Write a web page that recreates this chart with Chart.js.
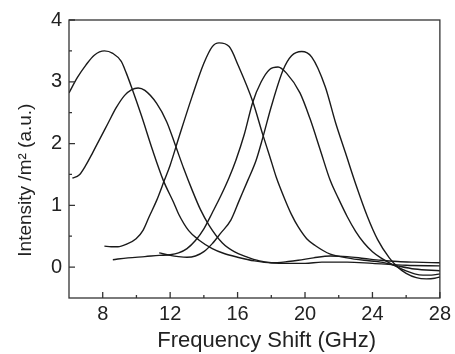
<!DOCTYPE html>
<html>
<head>
<meta charset="utf-8">
<script src="https://cdn.jsdelivr.net/npm/chart.js@4.4.0/dist/chart.umd.min.js"></script>
<style>
html, body { margin: 0; padding: 0; background: #fff; }
</style>
</head>
<body>
<canvas id="myChart" width="455" height="354"></canvas>
<script>
// tick labels
var xTicks = [8, 12, 16, 20, 24, 28];
var xMinor = [10, 14, 18, 22, 26];
var yTicks = [0, 1, 2, 3, 4];
var yMinor = [0.5, 1.5, 2.5, 3.5];

// curve 1 (peak ~8 GHz)
var aX = [6, 6.5, 7, 7.5, 8.1, 8.6, 9.1, 9.4, 9.7, 10.3, 10.95, 11.6, 12.2, 12.5, 13.1, 13.7, 14.5, 15.2, 16, 17, 18, 19, 19.6, 20.5, 21.5, 22.5, 23.5, 24.5, 25.5, 26.5, 28];
var aY = [2.82, 3.07, 3.27, 3.43, 3.5, 3.46, 3.33, 3.14, 2.92, 2.45, 1.9, 1.4, 1.05, 0.86, 0.59, 0.44, 0.3, 0.22, 0.16, 0.1, 0.07, 0.09, 0.11, 0.15, 0.18, 0.17, 0.14, 0.11, 0.09, 0.08, 0.07];
// curve 2 (peak ~10 GHz)
var bX = [6.2, 6.6, 7.0, 7.4, 7.8, 8.3, 8.8, 9.3, 9.7, 10.1, 10.5, 11.2, 11.8, 12.3, 12.8, 13.3, 13.8, 14.3, 15.1, 15.8, 16.5, 17.3, 18, 19, 20, 21, 22.5, 24, 26, 28];
var bY = [1.44, 1.49, 1.65, 1.85, 2.06, 2.32, 2.58, 2.78, 2.87, 2.9, 2.86, 2.65, 2.35, 1.98, 1.6, 1.25, 0.93, 0.68, 0.39, 0.25, 0.17, 0.1, 0.07, 0.06, 0.06, 0.08, 0.08, 0.06, 0.03, 0.02];
// curve 3 (peak ~15 GHz)
var cX = [8.1, 8.5, 8.9, 9.4, 9.98, 10.4, 10.76, 11.2, 11.65, 12.0, 12.53, 13.3, 14.0, 14.5, 14.9, 15.5, 16.06, 16.9, 17.5, 17.9, 18.3, 18.8, 19.2, 19.6, 20.1, 20.6, 21.5, 22.5, 23.5, 24.5, 25.5, 26.5, 28];
var cY = [0.34, 0.33, 0.33, 0.37, 0.46, 0.6, 0.82, 1.08, 1.4, 1.65, 2.11, 2.76, 3.3, 3.57, 3.63, 3.57, 3.25, 2.68, 2.14, 1.8, 1.45, 1.1, 0.85, 0.65, 0.46, 0.35, 0.21, 0.15, 0.11, 0.08, 0.02, -0.03, -0.06];
// curve 4 (peak ~18.4 GHz)
var dX = [8.6, 9.5, 10.5, 11.35, 12, 12.5, 13, 13.5, 14, 14.5, 15, 15.5, 15.9, 16.4, 16.9, 17.4, 17.9, 18.4, 18.9, 19.7, 20.3, 20.9, 21.5, 22, 22.5, 23, 23.5, 24, 24.5, 25, 25.5, 26, 26.5, 27, 27.5, 28];
var dY = [0.12, 0.15, 0.17, 0.19, 0.2, 0.23, 0.3, 0.43, 0.62, 0.88, 1.15, 1.45, 1.73, 2.15, 2.67, 3.0, 3.2, 3.24, 3.14, 2.82, 2.4, 1.9, 1.4, 1.1, 0.82, 0.58, 0.39, 0.25, 0.15, 0.07, 0.0, -0.06, -0.11, -0.13, -0.13, -0.11];
// curve 5 (peak ~19.8 GHz)
var eX = [11.35, 12, 12.5, 13, 13.5, 14, 14.5, 15, 15.6, 16.1, 16.6, 17.1, 17.5, 18, 18.7, 19.2, 19.8, 20.4, 21.2, 21.8, 22.4, 23, 23.7, 24.3, 25, 25.5, 26, 26.6, 27.2, 27.7, 28];
var eY = [0.23, 0.19, 0.17, 0.16, 0.18, 0.25, 0.38, 0.55, 0.76, 1.08, 1.4, 1.73, 2.1, 2.6, 3.19, 3.42, 3.49, 3.4, 2.92, 2.35, 1.85, 1.35, 0.82, 0.45, 0.15, 0.0, -0.1, -0.17, -0.19, -0.18, -0.16];

function pts(xs, ys) {
    return xs.map(function (x, i) { return { x: x, y: ys[i] }; });
}

function line(xs, ys) {
    return {
        data: pts(xs, ys),
        showLine: true,
        borderColor: '#1a1a1a',
        borderWidth: 1.4,
        pointRadius: 0,
        cubicInterpolationMode: 'monotone',
        fill: false
    };
}

// box round the plot and inward ticks
var frame = {
    id: 'frame',
    afterDatasetsDraw: function (chart) {
        var c = chart.ctx, a = chart.chartArea;
        var xs = chart.scales.x, ys = chart.scales.y;
        c.save();
        c.strokeStyle = '#333';
        c.lineWidth = 1.3;
        c.strokeRect(a.left, a.top, a.right - a.left, a.bottom - a.top);
        c.beginPath();
        xTicks.forEach(function (v) { var p = xs.getPixelForValue(v); c.moveTo(p, a.bottom); c.lineTo(p, a.bottom - 6); });
        xMinor.forEach(function (v) { var p = xs.getPixelForValue(v); c.moveTo(p, a.bottom); c.lineTo(p, a.bottom - 3); });
        yTicks.forEach(function (v) { var p = ys.getPixelForValue(v); c.moveTo(a.left, p); c.lineTo(a.left + 6, p); });
        yMinor.forEach(function (v) { var p = ys.getPixelForValue(v); c.moveTo(a.left, p); c.lineTo(a.left + 3, p); });
        c.stroke();
        c.restore();
    }
};

var font = "'Liberation Sans', Arial, sans-serif";
var nb = '\u00a0';

var ctx = document.getElementById('myChart').getContext('2d');
var myChart = new Chart(ctx, {
    type: 'scatter',
    data: {
        datasets: [line(aX, aY), line(bX, bY), line(cX, cY), line(dX, dY), line(eX, eY)]
    },
    options: {
        responsive: false,
        animation: false,
        devicePixelRatio: 1,
        layout: { padding: { top: 20, right: 13, left: 0, bottom: 0 } },
        plugins: { legend: { display: false }, tooltip: { enabled: false } },
        scales: {
            x: {
                type: 'linear',
                min: 6,
                max: 28,
                grid: { display: false, drawTicks: false },
                border: { display: false },
                afterBuildTicks: function (s) { s.ticks = xTicks.map(function (v) { return { value: v }; }); },
                afterFit: function (s) { s.height = 56; },
                ticks: { color: '#222', padding: 4, maxRotation: 0, font: { family: font, size: 20 } },
                title: {
                    display: true,
                    // leading blanks push the title a little right, as in the original
                    text: nb.repeat(4) + 'Frequency Shift (GHz)',
                    color: '#222',
                    padding: { top: 0, bottom: 0 },
                    font: { family: font, size: 22 }
                }
            },
            y: {
                type: 'linear',
                min: -0.5,
                max: 4,
                grid: { display: false, drawTicks: false },
                border: { display: false },
                afterBuildTicks: function (s) { s.ticks = yTicks.map(function (v) { return { value: v }; }); },
                afterFit: function (s) { s.width = 69; },
                ticks: { color: '#222', padding: 7, font: { family: font, size: 20 } },
                title: {
                    display: true,
                    // trailing blanks move the title down a little
                    text: 'Intensity /m² (a.u.)' + nb.repeat(8),
                    color: '#222',
                    padding: { top: 14, bottom: 0 },
                    font: { family: font, size: 19 }
                }
            }
        }
    },
    plugins: [frame]
});
</script>
</body>
</html>
